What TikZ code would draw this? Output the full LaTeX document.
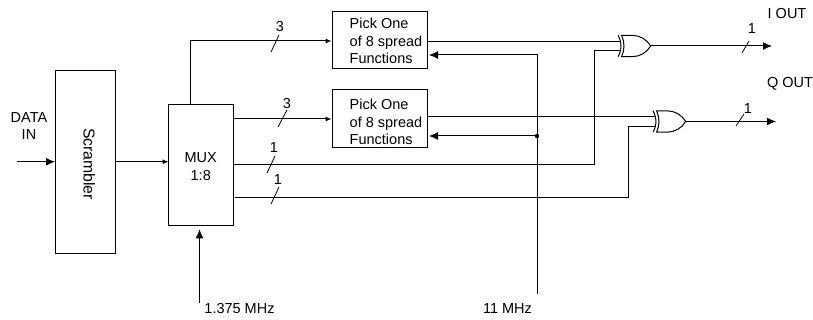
\documentclass[tikz,border=0pt]{standalone}
\usepackage{fontspec}
\setmainfont{Liberation Sans}
\usetikzlibrary{arrows.meta,positioning,calc,shapes.gates.logic.US}
\newcommand{\pickin}{\hspace*{13pt}}
\tikzset{
  blk/.style={shape=rectangle,draw,line width=1pt,inner sep=0pt,align=center},
  pickblk/.style={blk,align=left,minimum width=95pt},
  txt/.style={inner sep=0pt,align=center},
  sig/.style={line width=1pt},
  tip/.style={line width=1pt,-{Latex[length=6pt,width=5pt]}},
  bigtip/.style={line width=1pt,-{Latex[length=9pt,width=8pt]}},
  tick/.style={line width=.8pt},
  xorg/.style={xor gate US,draw,line width=1pt,logic gate inputs=nn,logic gate input sep=7.1pt,inner sep=0pt}
}
\begin{document}
\begin{tikzpicture}[x=1pt,y=-1pt,font=\fontsize{14.5}{17.5}\selectfont]
\useasboundingbox (0,0) rectangle (813,320);

\node[blk,rotate=-90,minimum width=182.5pt,minimum height=59.5pt,text depth=8pt,font=\fontsize{15.8}{18}\selectfont] (scr) at (85.25,161.75) {\hspace*{4.5pt}Scrambler};
\node[blk,minimum width=64.5pt,minimum height=121pt,text height=30pt] (mux) at (200.75,165.5) {MUX\\1:8};
\node[pickblk,minimum height=56.5pt,text height=47.5pt] (pick1) at (379.5,40) {\pickin Pick One\\\pickin of 8 spread\\\pickin Functions};
\node[pickblk,minimum height=58pt,text height=51.5pt] (pick2) at (379.5,119) {\pickin Pick One\\\pickin of 8 spread\\\pickin Functions};
\node[xorg] (xor1) at (634,46) {};
\node[xorg] (xor2) at (669,121.5) {};

\node[txt] (data) at (29,126) {DATA\\IN};
\node[txt] (iout) at (787,14) {I OUT};
\node[txt] (qout) at (790,84) {Q OUT};
\node[txt] (clka) at (239.5,309) {1.375 MHz};
\node[txt] (clkb) at (507.5,309) {11 MHz};
\node[txt] (n1) at (280,27) {3};
\node[txt] (n2) at (287,104) {3};
\node[txt] (n3) at (274,148) {1};
\node[txt] (n4) at (278,180) {1};
\node[txt] (n5) at (752,29) {1};
\node[txt] (n6) at (748,109) {1};

\coordinate (datain) at (17,161.75);
\coordinate (muxin) at (168.5,161.75);
\coordinate (muxup) at (190.7,105);
\coordinate (muxb) at (235,198);
\coordinate (muxa) at (233,165);
\coordinate (turna) at (594,165);
\coordinate (turnb) at (628,198);
\coordinate (rate) at (199.5,302.7);
\coordinate (ratetip) at (199.5,229.3);
\coordinate (clk) at (537,294);
\coordinate (fb1) at (429,55);
\coordinate (fb2) at (429,136);
\coordinate (out1) at (772,0);
\coordinate (out2) at (776,0);
\coordinate (in1a) at ($(xor1.input 1)+(0,-1.2)$);
\coordinate (in1b) at ($(xor1.input 2)+(0,1.2)$);
\coordinate (in2a) at ($(xor2.input 1)+(0,-1.2)$);
\coordinate (in2b) at ($(xor2.input 2)+(0,1.2)$);

\draw[bigtip] (datain) -- (datain -| scr.south);
\draw[tip] (scr.north |- muxin) -- (muxin);
\draw[tip] (muxup) |- (pick1.west |- 0,41);
\draw[tip] (mux.east |- pick2.west) -- (pick2.west);
\draw[sig] (pick1.east |- in1a) -- (in1a);
\draw[sig] (pick2.east |- in2a) -- (in2a);
\draw[sig] (muxa) -- (turna) |- (in1b);
\draw[sig] (muxb) -- (turnb) |- (in2b);
\draw[bigtip] (rate) -- (ratetip);
\draw[bigtip] (clk) |- (fb1);
\draw[bigtip] (clk |- fb2) -- (fb2);
\fill (clk |- fb2) circle (2.2pt);
\draw[bigtip] (xor1.output) -- (xor1.output -| out1);
\draw[bigtip] (xor2.output) -- (xor2.output -| out2);

\draw[tick] (271,52) -- (279,35);
\draw[tick] (278,127) -- (287,110);
\draw[tick] (267,173) -- (275,156);
\draw[tick] (271,204) -- (279,187);
\draw[tick] (742,53) -- (749,41);
\draw[tick] (736,126) -- (744,114);
\end{tikzpicture}
\end{document}
